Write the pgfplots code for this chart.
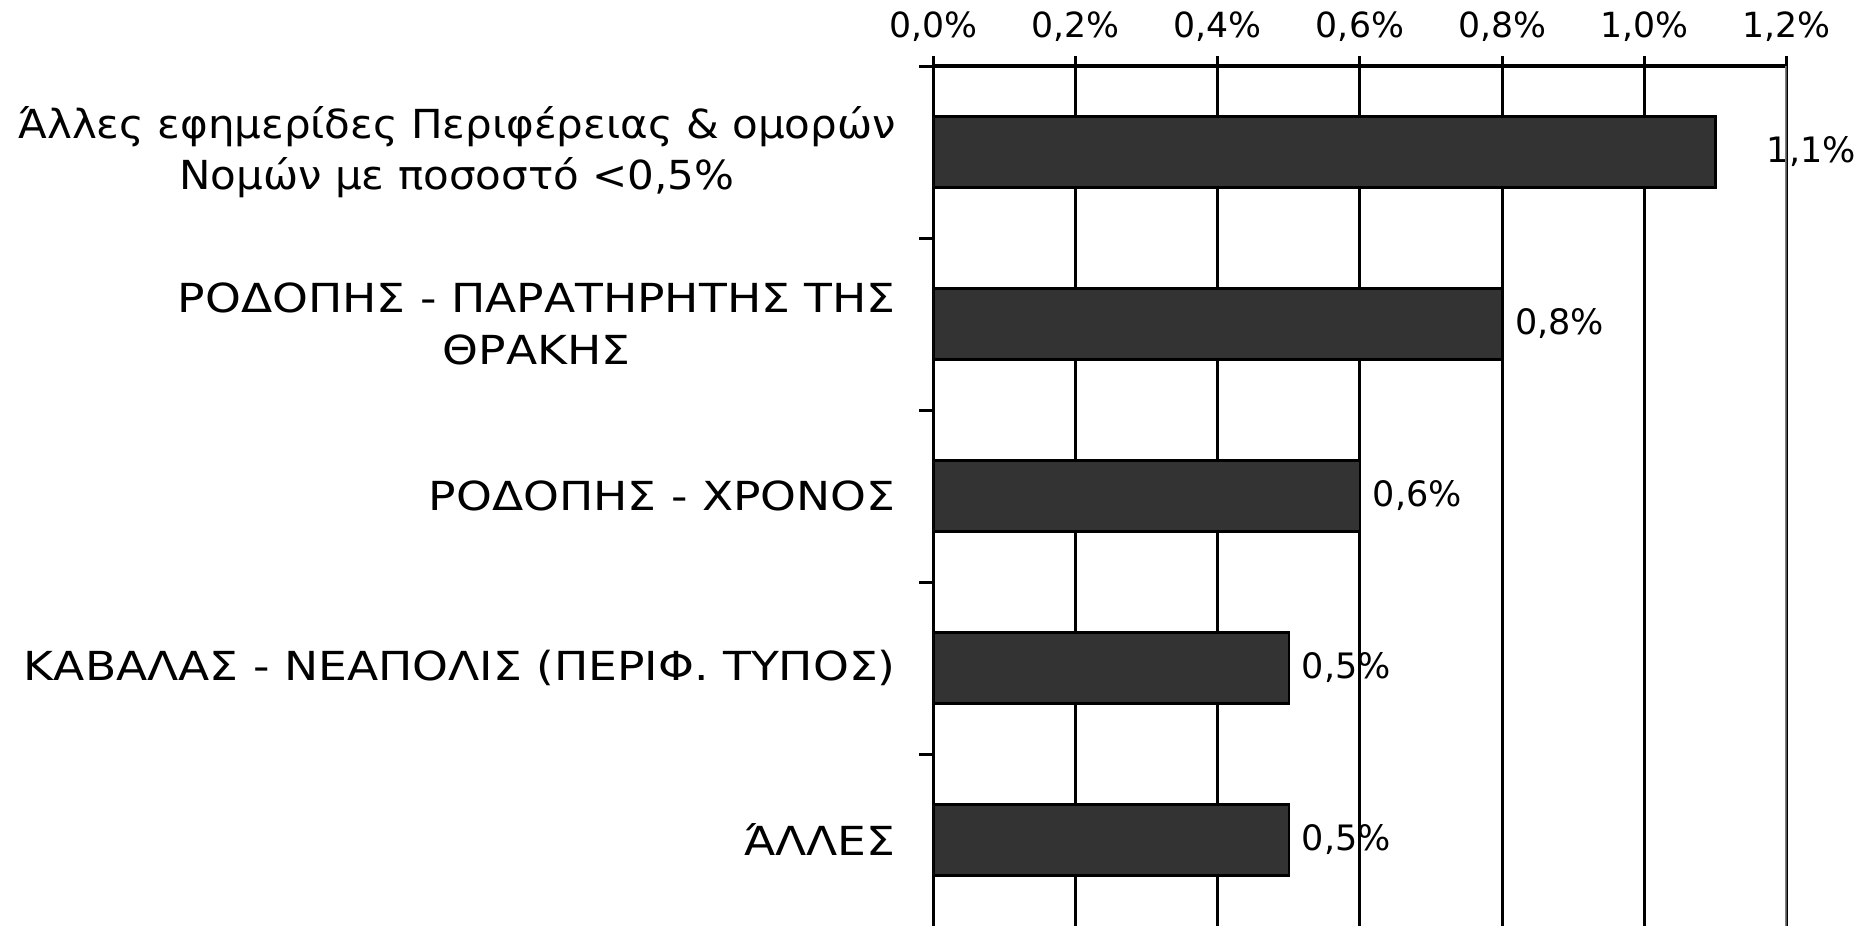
\documentclass[border=0pt]{standalone}
\usepackage{fontspec}
\setmainfont{DejaVu Sans}
\newfontfamily\catfont{DejaVu Sans}[FakeStretch=1.14]
\newfontfamily\catfontb{DejaVu Sans}[FakeStretch=1.05]
\usepackage{pgfplots}
\usepackage{pgfplotstable}
\pgfplotsset{compat=1.18}
\definecolor{barc}{HTML}{333333}
\pgfplotstableread{
y v off
0 1.1 15
1 0.8 3.5
2 0.6 3.5
3 0.5 3.5
4 0.5 3.5
}\data
\begin{document}
\begin{tikzpicture}
\begin{axis}[
  at={(0,0)}, anchor=south west,
  scale only axis, width=256pt, height=258pt,
  xbar, bar width=21.4pt,
  xmin=0, xmax=1.2, ymin=-0.5, ymax=4.5, y dir=reverse,
  axis x line=top, axis y line=left,
  x axis line style={-, black, line width=1pt},
  y axis line style={-, black, line width=0.9pt},
  /pgf/number format/assume math mode=true,
  xtick={0,0.2,0.4,0.6,0.8,1.0,1.2},
  xticklabel={\pgfmathprintnumber[fixed,fixed zerofill,precision=1,use comma]{\tick}\%},
  xticklabel style={font=\fontsize{10.4}{12}\selectfont, anchor=base, inner sep=0pt, yshift=5.5pt},
  xtick style={black, line width=0.9pt},
  major tick length=3pt, tick align=outside,
  xmajorgrids=true, ymajorgrids=false,
  major grid style={black, line width=0.9pt},
  ytick={0,1,2,3,4},
  yticklabels={{\catfontb Άλλες εφημερίδες Περιφέρειας \& ομορών\\\catfontb Νομών με ποσοστό <0,5\%},{ΡΟΔΟΠΗΣ - ΠΑΡΑΤΗΡΗΤΗΣ ΤΗΣ\\ΘΡΑΚΗΣ},{ΡΟΔΟΠΗΣ - ΧΡΟΝΟΣ},{ΚΑΒΑΛΑΣ - ΝΕΑΠΟΛΙΣ (ΠΕΡΙΦ. ΤΥΠΟΣ)},{ΆΛΛΕΣ}},
  yticklabel style={font=\catfont\fontsize{12}{15.5}\selectfont, align=center, anchor=east, inner sep=0pt, xshift=-8.1pt},
  ytick style={draw=none},
  extra y ticks={-0.5,0.5,1.5,2.5,3.5},
  extra y tick labels={},
  extra y tick style={grid=none, ytick style={draw=black, line width=0.9pt}, major tick length=4.3pt},
]
\addplot[fill=barc, draw=black, line width=0.8pt,
  visualization depends on={\thisrow{off} \as \off},
  nodes near coords={\pgfmathprintnumber[fixed,fixed zerofill,precision=1,use comma]{\pgfplotspointmeta}\%},
  nodes near coords style={anchor=west, inner sep=0pt, xshift=\off pt, font=\fontsize{10.5}{12}\selectfont, black},
] table[x=v, y=y] {\data};
\draw[gray, line width=0.9pt] (axis cs:1.2,-0.5) -- (axis cs:1.2,4.5);
\end{axis}
\pgfresetboundingbox
\useasboundingbox (-280pt,0pt) rectangle (277.4pt,277.8pt);
\end{tikzpicture}
\end{document}
